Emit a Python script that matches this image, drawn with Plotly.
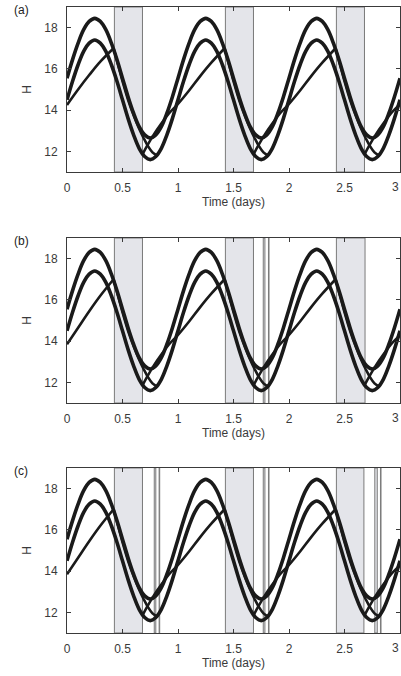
import plotly.graph_objects as go

# ---- data ----
# one-day circadian thresholds (t in days within a cycle)
DAY_T = [0.0, 0.05, 0.1, 0.15, 0.2, 0.25, 0.3, 0.35, 0.4, 0.45, 0.5,
         0.55, 0.6, 0.65, 0.7, 0.75, 0.8, 0.85, 0.9, 0.95, 1.0]
UPPER_H = [15.55, 16.45, 17.25, 17.9, 18.3, 18.45, 18.3, 17.9, 17.25, 16.45, 15.55,
           14.65, 13.85, 13.2, 12.8, 12.65, 12.8, 13.2, 13.85, 14.65, 15.55]
LOWER_H = [14.5, 15.4, 16.2, 16.85, 17.25, 17.4, 17.25, 16.85, 16.2, 15.4, 14.5,
           13.6, 12.8, 12.15, 11.75, 11.6, 11.75, 12.15, 12.8, 13.6, 14.5]

# homeostatic process: falling (sleep) and rising (wake) segments of one cycle
FALL_T = [0.42, 0.46, 0.50, 0.55, 0.60, 0.65, 0.69, 0.73, 0.77, 0.81]
FALL_H = [17.0, 16.2, 15.4, 14.5, 13.75, 13.1, 12.65, 12.25, 11.95, 11.8]
RISE_T = [0.68, 0.72, 0.78, 0.85, 0.92, 1.00, 1.10, 1.20, 1.30, 1.42]
RISE_H = [11.85, 12.25, 12.8, 13.35, 13.85, 14.3, 14.95, 15.65, 16.3, 17.0]
INIT_T = [0.0, 0.1, 0.2, 0.3, 0.42]
INIT_H = {"a": [14.25, 15.0, 15.7, 16.35, 17.0],
          "b": [13.85, 14.65, 15.45, 16.2, 17.0],
          "c": [13.85, 14.65, 15.45, 16.2, 17.0]}

DAYS = [0, 1, 2]

# sleep episodes (start, end) in days
SLEEP = {
    "a": [(0.427, 0.68), (1.427, 1.68), (2.427, 2.68)],
    "b": [(0.427, 0.68), (1.427, 1.68), (1.768, 1.783), (1.815, 1.82),
          (2.427, 2.685)],
    "c": [(0.427, 0.68), (0.786, 0.80), (0.83, 0.835), (1.427, 1.68),
          (1.768, 1.783), (1.815, 1.82), (2.427, 2.675), (2.773, 2.795),
          (2.824, 2.829)],
}
PANELS = ["a", "b", "c"]
X_TICKS = [0, 0.5, 1, 1.5, 2, 2.5, 3]
X_TICKTEXT = ["0", "0.5", "1", "1.5", "2", "2.5", "3"]
Y_TICKS = [12, 14, 16, 18]

# ---- build ----
W, H = 401, 676
ML, MR, MT, MB = 67, 1, 7, 43
ph = H - MT - MB
pix_dom = [(7, 172), (238, 403), (468, 633)]
domains = [[(H - MB - b) / ph, (H - MB - t) / ph] for t, b in pix_dom]

fig = go.Figure()
INK = "#1a1a1a"
AX = "#3a3a3a"
TXT = "#3a3a3a"
FONT = "Liberation Sans, Arial"

def tile(ts, vs):
    xs, ys = [], []
    for d in DAYS:
        for i, (t, v) in enumerate(zip(ts, vs)):
            if d > 0 and i == 0:
                continue
            xs.append(t + d)
            ys.append(v)
    return xs, ys

for k, p in enumerate(PANELS):
    xa = "x" if k == 0 else f"x{k+1}"
    ya = "y" if k == 0 else f"y{k+1}"
    # shading
    for s, e in SLEEP[p]:
        fig.add_shape(type="rect", xref=xa, yref=f"{ya} domain", x0=s, x1=e, y0=0, y1=1,
                      fillcolor="#e4e5ea", line=dict(color="#7a7a7a", width=1), layer="below")
    ux, uy = tile(DAY_T, UPPER_H)
    lx, ly = tile(DAY_T, LOWER_H)
    fig.add_trace(go.Scatter(x=ux, y=uy, mode="lines", xaxis=xa, yaxis=ya,
                             line=dict(color=INK, width=3.6, shape="spline"), showlegend=False))
    fig.add_trace(go.Scatter(x=lx, y=ly, mode="lines", xaxis=xa, yaxis=ya,
                             line=dict(color=INK, width=3.6, shape="spline"), showlegend=False))
    # homeostatic curve
    hx, hy = list(INIT_T), list(INIT_H[p])
    hx.append(None); hy.append(None)
    for d in DAYS:
        hx += [t + d for t in FALL_T]; hy += FALL_H
        hx.append(None); hy.append(None)
        hx += [t + d for t in RISE_T]; hy += RISE_H
        hx.append(None); hy.append(None)
    fig.add_trace(go.Scatter(x=hx, y=hy, mode="lines", xaxis=xa, yaxis=ya, connectgaps=False,
                             line=dict(color=INK, width=2.6, shape="spline"), showlegend=False))
    common = dict(showline=True, linecolor=AX, linewidth=1, mirror="ticks", ticks="inside",
                  ticklen=4, tickcolor=AX, showgrid=False, zeroline=False,
                  tickfont=dict(family=FONT, size=12, color=TXT))
    fig.update_layout(**{
        ("xaxis" if k == 0 else f"xaxis{k+1}"): dict(
            range=[0, 3], tickvals=X_TICKS, ticktext=X_TICKTEXT, anchor=ya,
            ticklabelstandoff=5,
            title=dict(text="Time (days)", standoff=2,
                       font=dict(family=FONT, size=12, color=TXT)),
            **common),
        ("yaxis" if k == 0 else f"yaxis{k+1}"): dict(
            range=[11, 19], tickvals=Y_TICKS, domain=domains[k], anchor=xa,
            ticklabelstandoff=6,
            title=dict(text="H", standoff=10,
                       font=dict(family=FONT, size=12, color=TXT)),
            **common),
    })
    # last tick label, kept just inside the right edge
    fig.add_annotation(text=X_TICKTEXT[-1], xref=xa, yref=f"{ya} domain",
                       x=X_TICKS[-1], y=0, yshift=-15, xanchor="right", yanchor="middle",
                       xshift=1, showarrow=False, font=dict(family=FONT, size=12, color=TXT))
    fig.add_annotation(text=f"({p})", xref="paper", yref="paper",
                       x=(21 - ML) / (W - ML - MR), y=(H - MB - (pix_dom[k][0] + 3)) / ph,
                       xanchor="center", yanchor="middle", showarrow=False,
                       font=dict(family=FONT, size=12, color="#222"))

fig.update_layout(width=W, height=H, margin=dict(l=ML, r=MR, t=MT, b=MB, autoexpand=False),
                  paper_bgcolor="white", plot_bgcolor="white")
fig.write_html("out.html")
